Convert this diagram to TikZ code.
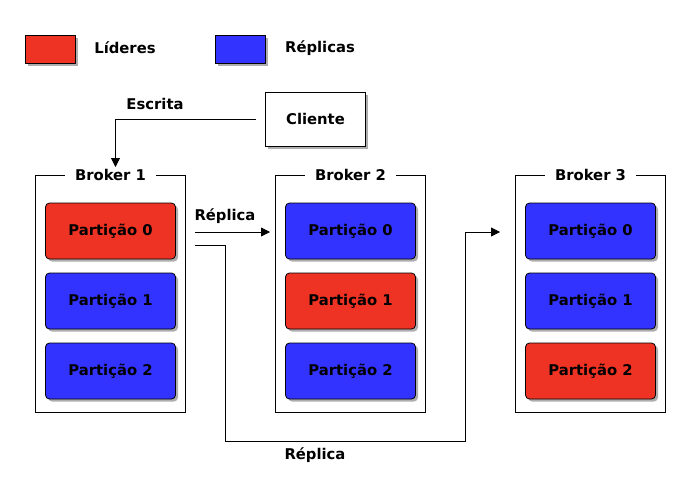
\documentclass[tikz,border=0pt]{standalone}
\usepackage{fontspec}
\setmainfont{DejaVu Sans}
\usetikzlibrary{shadows,arrows.meta}
\definecolor{lred}{RGB}{238,51,36}
\definecolor{lblue}{RGB}{51,51,255}
\begin{document}
\begin{tikzpicture}[x=1pt,y=-1pt,
  font=\fontsize{14.8}{17}\selectfont\bfseries,
  shad/.style={drop shadow={shadow xshift=2.5pt,shadow yshift=-2.5pt,opacity=0.45,fill=black!70}},
  legbox/.style={draw,line width=0.8pt,minimum width=50pt,minimum height=28pt,inner sep=0pt,shad},
  part/.style={draw,line width=0.8pt,rounded corners=4pt,minimum width=130pt,minimum height=56pt,inner sep=0pt,shad},
  frame/.style={draw,line width=0.8pt,minimum width=150pt,minimum height=237.5pt,inner sep=0pt},
  ftitle/.style={fill=white,inner xsep=10pt,inner ysep=1pt},
  conn/.style={line width=0.8pt,-{Triangle[length=9pt,width=9pt]}},
  plain/.style={line width=0.8pt}]
\useasboundingbox (0,0) rectangle (690,490);
% legend
\node[legbox,fill=lred] (lr) at (50,49) {};
\node (lrt) at (125,48) {Líderes};
\node[legbox,fill=lblue] (lb) at (240.5,49) {};
\node (lbt) at (320,48) {Réplicas};
% client
\node[draw,line width=0.8pt,fill=white,minimum width=100pt,minimum height=54pt,shad] (cli) at (315.5,119) {Cliente};
\node (esc) at (155,104) {Escrita};
% brokers
\foreach \i/\x/\ca/\cb/\cc in {1/110.5/lred/lblue/lblue,2/350.5/lblue/lred/lblue,3/590.5/lblue/lblue/lred}{
  \node[frame] (b\i) at (\x,293.75) {};
  \node[ftitle] (b\i t) at (\x,175) {Broker \i};
  \node[part,fill=\ca] (p\i a) at (\x,231) {Partição 0};
  \node[part,fill=\cb] (p\i b) at (\x,301) {Partição 1};
  \node[part,fill=\cc] (p\i c) at (\x,371) {Partição 2};
}
% connectors
\coordinate (e1) at (255.5,119);
\coordinate (e2) at (115.5,119);
\coordinate (e3) at (115.5,167);
\draw[conn] (e1) -- (e2) -- (e3);
\coordinate (r1s) at (195,232);
\coordinate (r1e) at (270,232);
\draw[conn] (r1s) -- (r1e);
\node (rt1) at (225,216) {Réplica};
\coordinate (r2s) at (195,245.5);
\coordinate (r2a) at (225.5,245.5);
\coordinate (r2b) at (225.5,441);
\coordinate (r2c) at (465.5,441);
\coordinate (r2d) at (465.5,232);
\coordinate (r2e) at (500,232);
\draw[conn] (r2s) -- (r2a) -- (r2b) -- (r2c) -- (r2d) -- (r2e);
\node (rt2) at (315,455) {Réplica};
\end{tikzpicture}
\end{document}
